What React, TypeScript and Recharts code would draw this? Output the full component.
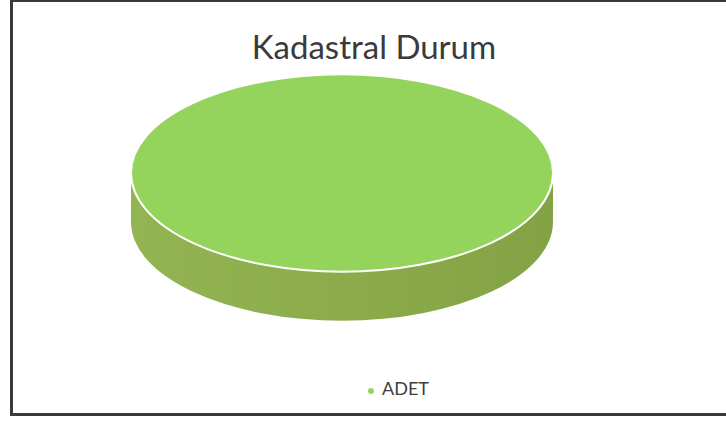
import React from "react";
import { PieChart, Pie, Cell, Legend } from "recharts";

const categories = ["ADET"];
const values = [1];
const colors = ["#94d45c"];

const chartTitle = "Kadastral Durum";

const data = categories.map((name, i) => ({ name, value: values[i] }));

const TILT = 0.468;
const DEPTH = 0.232;

function Slice3D(props: any) {
  const { cx, cy, outerRadius, startAngle, endAngle, fill } = props;
  const rx = outerRadius;
  const ry = outerRadius * TILT;
  const depth = outerRadius * DEPTH;
  const pt = (deg: number, dy = 0) => {
    const r = (deg * Math.PI) / 180;
    return [cx + rx * Math.cos(r), cy - ry * Math.sin(r) + dy];
  };
  const span = Math.abs(endAngle - startAngle);
  const full = span >= 359.99;

  // visible front wall: the part of the slice between 180 and 360 degrees
  let lo = Math.min(startAngle, endAngle);
  let hi = Math.max(startAngle, endAngle);
  while (lo < 0) {
    lo += 360;
    hi += 360;
  }
  let a0 = full ? 180 : Math.max(lo, 180);
  let a1 = full ? 360 : Math.min(hi, 360);
  let side = null;
  if (a1 > a0) {
    const [x0, y0] = pt(a0);
    const [x1, y1] = pt(a1);
    const [x1b, y1b] = pt(a1, depth);
    const [x0b, y0b] = pt(a0, depth);
    const large = a1 - a0 > 180 ? 1 : 0;
    side = (
      <path
        d={`M${x0},${y0} A${rx},${ry} 0 ${large} 0 ${x1},${y1} L${x1b},${y1b} A${rx},${ry} 0 ${large} 1 ${x0b},${y0b} Z`}
        fill="url(#sideGrad)"
      />
    );
  }

  let top;
  if (full) {
    top = <ellipse cx={cx} cy={cy} rx={rx} ry={ry} fill={fill} stroke="#ffffff" strokeWidth={2} />;
  } else {
    const [sx, sy] = pt(startAngle);
    const [ex, ey] = pt(endAngle);
    const large = span > 180 ? 1 : 0;
    top = (
      <path
        d={`M${cx},${cy} L${sx},${sy} A${rx},${ry} 0 ${large} 0 ${ex},${ey} Z`}
        fill={fill}
        stroke="#ffffff"
        strokeWidth={2}
      />
    );
  }

  return (
    <g>
      {side}
      {top}
    </g>
  );
}

export default function App() {
  return (
    <div style={{ position: "absolute", left: 0, top: 0, width: 726, height: 422, background: "#fff", overflow: "hidden" }}>
      <div
        style={{
          position: "absolute",
          left: 10,
          top: -1,
          width: 800,
          height: 411,
          border: "3px solid #3a3a3a",
        }}
      />
      <div
        style={{
          position: "absolute",
          left: 0,
          top: 26,
          width: 748,
          textAlign: "center",
          fontFamily: "Lato, 'Open Sans', sans-serif",
          fontSize: 33,
          color: "#3a3a3a",
          lineHeight: "40px",
        }}
      >
        {chartTitle}
      </div>
      <div style={{ position: "absolute", left: 0, top: 0 }}>
        <PieChart width={726} height={422} margin={{ top: 0, right: 0, bottom: 0, left: 0 }}>
          <defs>
            <linearGradient id="sideGrad" x1="0" y1="0" x2="1" y2="0">
              <stop offset="0%" stopColor="#93b453" />
              <stop offset="50%" stopColor="#8cac4b" />
              <stop offset="100%" stopColor="#83a244" />
            </linearGradient>
          </defs>
          <Pie
            data={data}
            dataKey="value"
            nameKey="name"
            cx={342}
            cy={173}
            outerRadius={211}
            startAngle={90}
            endAngle={-270}
            stroke="none"
            shape={Slice3D}
            isAnimationActive={false}
          >
            {data.map((d, i) => (
              <Cell key={d.name} fill={colors[i]} />
            ))}
          </Pie>
          <Legend
            layout="horizontal"
            align="left"
            verticalAlign="bottom"
            iconType="circle"
            iconSize={6}
            wrapperStyle={{ left: 368, top: 377, bottom: "auto", width: 120 }}
            formatter={(v) => (
              <span style={{ color: "#404040", fontFamily: "Lato, sans-serif", fontSize: 18, marginLeft: 4 }}>{v}</span>
            )}
          />
        </PieChart>
      </div>
    </div>
  );
}
